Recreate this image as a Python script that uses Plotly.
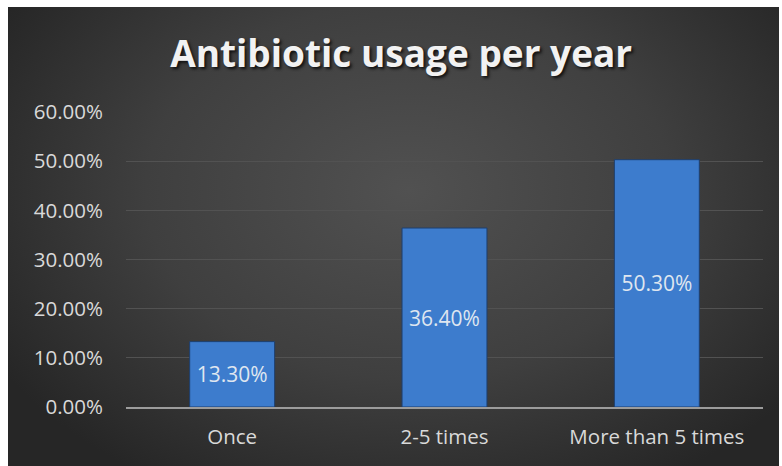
import base64
import plotly.graph_objects as go

categories = ["Once", "2-5 times", "More than 5 times"]
values = [0.133, 0.364, 0.503]
value_labels = ["13.30%", "36.40%", "50.30%"]
y_ticks = [0, 0.1, 0.2, 0.3, 0.4, 0.5, 0.6]

W, H = 782, 466
L, R, T, B = 126, 19, 112, 59
pw, ph = W - L - R, H - T - B

svg = f'''<svg xmlns="http://www.w3.org/2000/svg" width="771" height="459" viewBox="0 0 771 459" preserveAspectRatio="none">
<defs><radialGradient id="g" cx="0.52" cy="0.4" r="0.62" gradientTransform="translate(0.52,0.4) scale(1,1.2) translate(-0.52,-0.4)">
<stop offset="0" stop-color="#515151"/><stop offset="0.55" stop-color="#3f3f3f"/><stop offset="1" stop-color="#262626"/></radialGradient></defs>
<rect width="771" height="459" fill="url(#g)"/></svg>'''
src = "data:image/svg+xml;base64," + base64.b64encode(svg.encode()).decode()

fig = go.Figure()
fig.add_trace(go.Bar(
    x=categories, y=values, text=value_labels,
    textposition="inside", insidetextanchor="middle",
    textfont=dict(family="Open Sans", size=21, color="#dfe6f0"),
    marker=dict(color="#3d7ccd", line=dict(color="#1e3f6e", width=1)),
    width=0.4, hoverinfo="skip",
))

fig.update_layout(
    width=W, height=H,
    margin=dict(l=L, r=R, t=T, b=B),
    paper_bgcolor="white", plot_bgcolor="rgba(0,0,0,0)",
    showlegend=False,
    title=dict(text="<b>Antibiotic usage per year</b>", x=0.513, xanchor="center",
               y=1 - 54 / H, yanchor="middle", yref="container",
               font=dict(family="Open Sans", size=37, color="#f2f2f2",
                         shadow="2px 2px 3px #111")),
    images=[dict(source=src, xref="paper", yref="paper",
                 x=(8 - L) / pw, y=(H - B - 7) / ph,
                 sizex=771 / pw, sizey=459 / ph,
                 xanchor="left", yanchor="top", sizing="stretch", layer="below")],
    font=dict(family="Open Sans", color="#d9d9d9"),
)
fig.update_yaxes(range=[0, 0.6], tickvals=y_ticks, tickformat=".2%",
                 showgrid=True, gridcolor="#525252", gridwidth=1,
                 zeroline=False, showline=False, ticks="",
                 ticklabelstandoff=22,
                 tickfont=dict(family="Open Sans", size=20.5, color="#d9d9d9"))
fig.update_xaxes(showline=True, linecolor="#9c9c9c", linewidth=2,
                 ticks="", ticklabelstandoff=10,
                 tickfont=dict(family="Open Sans", size=20.5, color="#d9d9d9"))

fig.write_html("out.html")
